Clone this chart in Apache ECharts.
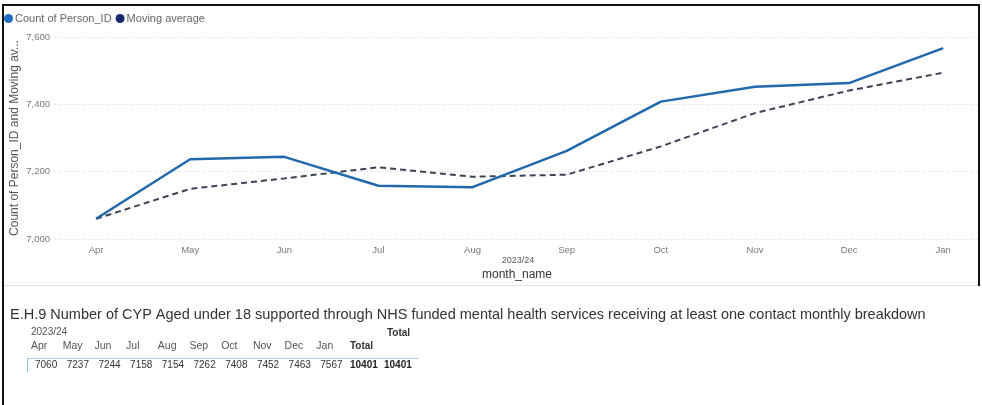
<!DOCTYPE html>
<html>
<head>
<meta charset="utf-8">
<script src="https://cdn.jsdelivr.net/npm/echarts@6/dist/echarts.min.js"></script>
<style>
  html, body { margin: 0; padding: 0; background: #fff; }
  #chart { width: 982px; height: 405px; }
</style>
</head>
<body>
<div id="chart"></div>
<script>
// Monthly figures, financial year 2023/24
const months = ['Apr', 'May', 'Jun', 'Jul', 'Aug', 'Sep', 'Oct', 'Nov', 'Dec', 'Jan'];
const personCounts = [7060, 7237, 7244, 7158, 7154, 7262, 7408, 7452, 7463, 7567];
const movingAverage = [7060, 7149, 7180, 7213, 7185, 7191, 7275, 7374, 7441, 7494];
const yearLabel = '2023/24';
const grandTotal = 10401;

const FONT = 'Arial, "Liberation Sans", sans-serif';
const chart = echarts.init(document.getElementById('chart'), null, { renderer: 'canvas' });

// matrix text beneath the line chart
const colStep = 31.7;
const tableTexts = [];
months.forEach((m, i) => {
  tableTexts.push({ type: 'text', left: 31 + i * colStep, top: 341,
    style: { text: m, font: '10.5px ' + FONT, fill: '#555' } });
  tableTexts.push({ type: 'text', left: 35 + i * colStep, top: 360,
    style: { text: String(personCounts[i]), font: '10px ' + FONT, fill: '#333' } });
});
tableTexts.push({ type: 'text', left: 31 + months.length * colStep + 2, top: 341,
  style: { text: 'Total', font: 'bold 10px ' + FONT, fill: '#333' } });
tableTexts.push({ type: 'text', left: 387, top: 328,
  style: { text: 'Total', font: 'bold 10px ' + FONT, fill: '#333' } });
tableTexts.push({ type: 'text', left: 350, top: 360,
  style: { text: String(grandTotal), font: 'bold 10px ' + FONT, fill: '#222' } });
tableTexts.push({ type: 'text', left: 384, top: 360,
  style: { text: String(grandTotal), font: 'bold 10px ' + FONT, fill: '#222' } });
tableTexts.push({ type: 'text', left: 31, top: 327,
  style: { text: yearLabel, font: '10px ' + FONT, fill: '#555' } });

chart.setOption({
  animation: false,
  textStyle: { fontFamily: FONT },
  legend: {
    left: 4, top: 13, padding: 0,
    icon: 'circle', itemWidth: 9, itemHeight: 9, itemGap: 4,
    textStyle: { fontSize: 11, color: '#666', padding: [0, 0, 0, -3] },
    data: [
      { name: 'Count of Person_ID', itemStyle: { color: '#1d6cc0' } },
      { name: 'Moving average', itemStyle: { color: '#14296e' } }
    ]
  },
  grid: { left: 55, right: 3, top: 37, bottom: 166, containLabel: false, outerBoundsMode: 'none' },
  xAxis: {
    type: 'value',
    min: -0.436, max: 9.38,
    name: 'month_name', nameLocation: 'middle', nameGap: 30, nameMoveOverlap: false,
    nameTextStyle: { fontSize: 12, color: '#333' },
    axisLine: { show: false }, axisTick: { show: false },
    splitLine: { show: false },
    axisLabel: {
      customValues: months.map((_, i) => i),
      formatter: v => months[Math.round(v)],
      fontSize: 9.5, color: '#777', margin: 6
    }
  },
  yAxis: {
    type: 'value', min: 7000, max: 7600, interval: 200,
    name: 'Count of Person_ID and Moving av...', nameLocation: 'middle', nameGap: 34,
    nameMoveOverlap: false,
    nameTextStyle: { fontSize: 12, color: '#555' },
    axisLine: { show: false }, axisTick: { show: false },
    axisLabel: {
      fontSize: 9.5, color: '#777', margin: 5,
      formatter: v => v.toLocaleString('en-US')
    },
    splitLine: { lineStyle: { color: '#d9d9d9', type: [1, 2], width: 1 } }
  },
  series: [
    {
      name: 'Count of Person_ID', type: 'line', symbol: 'none',
      data: personCounts.map((v, i) => [i, v]),
      lineStyle: { color: '#2168ad', width: 2.5 },
      itemStyle: { color: '#1d6cc0' }, z: 3
    },
    {
      name: 'Moving average', type: 'line', symbol: 'none',
      data: movingAverage.map((v, i) => [i, v]),
      lineStyle: { color: '#3b4457', width: 2, type: [6, 4] },
      itemStyle: { color: '#14296e' }, z: 2
    }
  ],
  graphic: [
    // frame edges
    { type: 'rect', shape: { x: 2, y: 4, width: 2, height: 401 }, style: { fill: '#111' }, silent: true },
    { type: 'rect', shape: { x: 2, y: 4, width: 978, height: 2 }, style: { fill: '#111' }, silent: true },
    { type: 'rect', shape: { x: 978, y: 4, width: 2, height: 282 }, style: { fill: '#111' }, silent: true },
    // separator between chart and matrix
    { type: 'rect', shape: { x: 4, y: 285, width: 974, height: 1 }, style: { fill: '#e3e3e3' }, silent: true },
    // hierarchy label under month ticks
    { type: 'text', x: 518, y: 261,
      style: { text: yearLabel, font: '9px ' + FONT, fill: '#555', align: 'center', verticalAlign: 'middle' } },
    // matrix title
    { type: 'text', left: 10, top: 307,
      style: { text: 'E.H.9 Number of CYP Aged under 18 supported through NHS funded mental health services receiving at least one contact monthly breakdown',
        font: '14.5px ' + FONT, fill: '#333' } },
    // matrix header rule and row marker
    { type: 'rect', shape: { x: 27, y: 358, width: 391, height: 1 }, style: { fill: '#a8cfe6' }, silent: true },
    { type: 'rect', shape: { x: 27, y: 358, width: 1, height: 14 }, style: { fill: '#8bbfe0' }, silent: true },
    ...tableTexts
  ]
});
</script>
</body>
</html>
